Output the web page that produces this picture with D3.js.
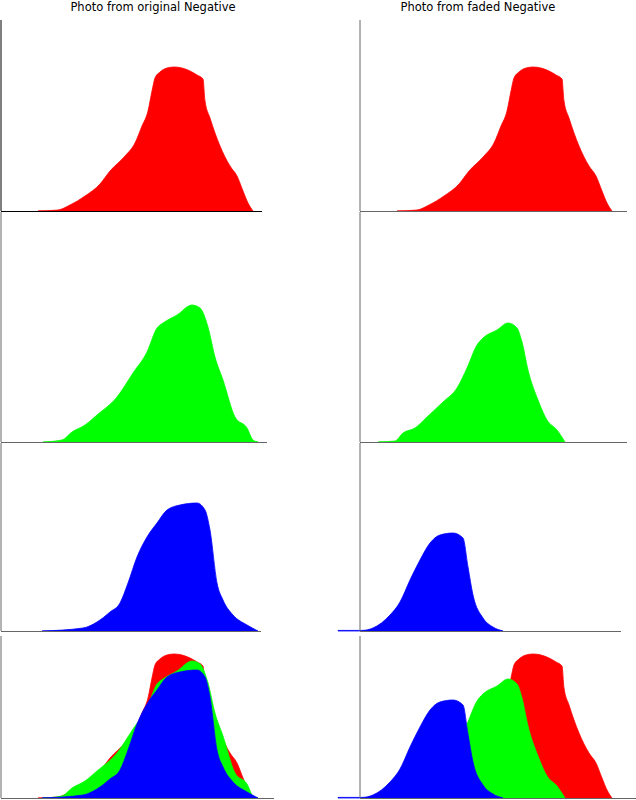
<!DOCTYPE html>
<html><head><meta charset="utf-8">
<script src="https://cdn.jsdelivr.net/npm/d3@7"></script>
<style>body{margin:0;background:#fff}svg{display:block}</style>
</head><body>
<script>
// histogram data: [intensity, count]
const redOrig = [[36,0],[56,1],[68,6],[83,15],[98,27],[108,40],[123,55],[133,68],[140,85],[146,100],[150,120],[153,133],[158,139],[165,143],[172,144],[180,143],[188,140],[195,136],[201,132],[203,110],[208,93],[218,65],[228,45],[235,35],[241,20],[246,8],[251,0]];
const greenOrig = [[41,0],[60,2],[70,10],[83,17],[95,27],[115,45],[131,69],[145,90],[155,114],[161,119],[175,127],[190,137],[198,134],[206,115],[213,85],[221,62],[233,25],[245,14],[251,2],[256,0]];
const blueOrig = [[40,0],[81,3],[95,9],[108,19],[118,28],[126,48],[135,74],[145,94],[155,108],[165,121],[178,126],[195,128],[203,121],[208,101],[215,48],[221,31],[231,16],[245,6],[256,0]];
const redFaded = redOrig;
const greenFaded = [[17,0],[34,1],[42,9],[54,14],[66,25],[82,40],[96,54],[106,74],[116,97],[122,104],[136,112],[147,119],[156,114],[161,100],[167,72],[177,42],[186,22],[196,12],[204,0]];
const blueFaded = [[-23,0.6],[1,0.6],[12,3],[29,16],[39,29],[49,51],[59,71],[69,88],[79,96],[92,98],[102,93],[107,64],[112,36],[122,13],[132,4],[142,0]];
const titles = ["Photo from original Negative","Photo from faded Negative"];

const W=636,H=800;
const svg=d3.select("body").append("svg").attr("width",W).attr("height",H);
const rows=[{t:20,b:211},{t:212,b:442},{t:443,b:631},{t:636,b:798}];
const cols=[{x0:2,ends:[262,267,261,274]},{x0:361,ends:[627,627,621,636]}];
const panels=[
 [[[redOrig,"#ff0000"]],[[redFaded,"#ff0000"]]],
 [[[greenOrig,"#00ff00"]],[[greenFaded,"#00ff00"]]],
 [[[blueOrig,"#0000ff"]],[[blueFaded,"#0000ff"]]],
 [[[redOrig,"#ff0000"],[greenOrig,"#00ff00"],[blueOrig,"#0000ff"]],[[redFaded,"#ff0000"],[greenFaded,"#00ff00"],[blueFaded,"#0000ff"]]]
];
titles.forEach((t,i)=>svg.append("text").attr("x",i?478:153).attr("y",11).attr("text-anchor","middle")
  .attr("font-family","DejaVu Sans").attr("font-size",11.5).text(t));
rows.forEach((r,ri)=>{
  cols.forEach((c,ci)=>{
    const x=d3.scaleLinear().domain([0,256]).range([c.x0,c.x0+256]);
    const y=d3.scaleLinear().domain([0,r.b-r.t]).range([r.b,r.t]);
    const area=d3.area().x(d=>x(d[0])).y0(y(0)).y1(d=>y(d[1])).curve(d3.curveMonotoneX);
    panels[ri][ci].forEach(([data,col])=>{
      svg.append("path").attr("d",area(data)).attr("fill",col).attr("stroke",col).attr("stroke-width",0.8);
    });
    const ac=(ri==0&&ci==0)?"#000":"#666";
    svg.append("line").attr("x1",c.x0-1).attr("x2",c.x0-1).attr("y1",r.t).attr("y2",r.b).attr("stroke",ac).attr("stroke-width",1);
    svg.append("line").attr("x1",c.x0-1).attr("x2",c.ends[ri]).attr("y1",r.b+0.5).attr("y2",r.b+0.5).attr("stroke",ac).attr("stroke-width",1);
  });
});
</script>
</body></html>
